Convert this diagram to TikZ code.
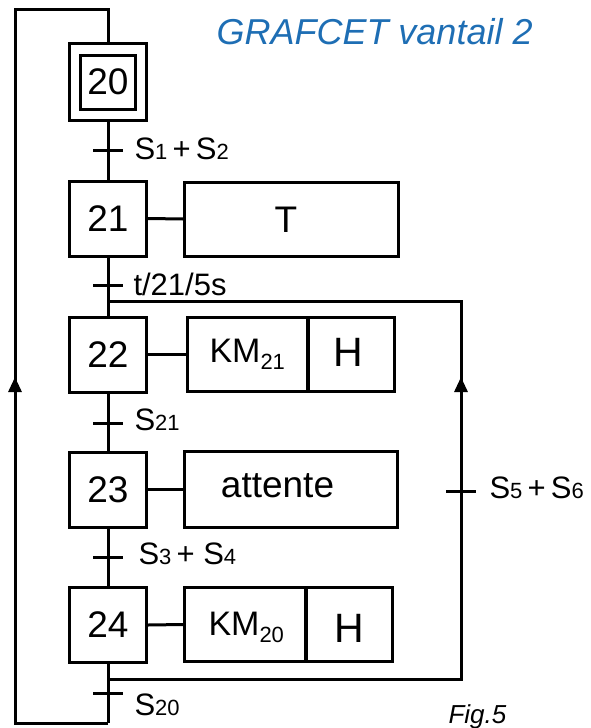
\documentclass[tikz,border=0pt]{standalone}
\usepackage{fontspec}
\setmainfont{Liberation Sans}
\usetikzlibrary{arrows.meta}
\definecolor{titleblue}{RGB}{30,110,180}
\newcommand{\myfs}[1]{\fontsize{#1}{#1}\selectfont}
\newcommand{\smalldig}[1]{{\myfs{22}#1}}
\newcommand{\lowdig}[1]{\raisebox{-7pt}{\myfs{22}#1}}
\begin{document}
\begin{tikzpicture}[x=1pt,y=-1pt,line width=3pt,
  stepbox/.style={draw,line width=3pt,minimum width=77pt,minimum height=75pt,inner sep=0pt,font=\myfs{37}},
  actbox/.style={draw,line width=3pt,inner sep=0pt,minimum height=74pt},
  acttext/.style={inner sep=0pt,anchor=base},
  trlabel/.style={inner sep=0pt,anchor=base west,font=\myfs{31}},
  bar/.style={line width=3pt},
  tip/.style={-{Triangle[length=15pt,width=13pt]}}]
\useasboundingbox (0,0) rectangle (591,728);

% title
\node[inner sep=0pt,anchor=base west,font=\myfs{36}\itshape,text=titleblue] (title) at (215,44) {GRAFCET vantail 2};
\node[inner sep=0pt,anchor=base west,font=\myfs{26}\itshape] (fig) at (447,723) {Fig.5};

% steps
\node[stepbox,minimum width=77pt,minimum height=77pt] (s20o) at (108,82) {};
\node[stepbox,minimum width=55pt,minimum height=54pt] (s20) at (108,82) {20};
\node[stepbox] (s21) at (108,218.5) {21};
\node[stepbox] (s22) at (108,354.5) {22};
\node[stepbox] (s23) at (108,489.5) {23};
\node[stepbox] (s24) at (108,625) {24};

% actions
\node[actbox,minimum width=214pt] (a21) at (291.5,219) {};
\node[acttext,font=\myfs{37}] (a21t) at (286,232) {T};

\node[actbox,minimum width=120pt] (a22k) at (247.5,354.5) {};
\node[actbox,minimum width=86pt] (a22h) at (351,354.5) {};
\node[inner sep=0pt,anchor=base west,font=\myfs{34}] (a22kt) at (208,362) {KM\lowdig{21}};
\node[acttext,font=\myfs{41}] (a22ht) at (348,366) {H};

\node[actbox,minimum width=213pt,minimum height=76pt] (a23) at (291,489.5) {};
\node[acttext,font=\myfs{37}] (a23t) at (277.5,497) {attente};

\node[actbox,minimum width=121pt] (a24k) at (245,624.5) {};
\node[actbox,minimum width=86pt] (a24h) at (349,624.5) {};
\node[inner sep=0pt,anchor=base west,font=\myfs{34}] (a24kt) at (207,635) {KM\lowdig{20}};
\node[acttext,font=\myfs{41}] (a24ht) at (349,642) {H};

% step-action links
\draw (s21.east) -- (a21.west);
\draw (s22.east) -- (a22k.west);
\draw (s23.east) -- (a23.west);
\draw (s24.east) -- (a24k.west);

% vertical links
\draw (s20o.south) -- (s21.north);
\draw (s21.south) -- (s22.north);
\draw (s22.south) -- (s23.north);
\draw (s23.south) -- (s24.north);

% transitions
\coordinate (t1) at (108,150);
\coordinate (t2) at (108,285);
\coordinate (t3) at (108,423);
\coordinate (t4) at (108,557);
\coordinate (t5) at (108,693);
\coordinate (t6) at (461,491);
\foreach \t in {t1,t2,t3,t4,t5,t6}
  \draw[bar] ([xshift=-15pt]\t) -- ([xshift=15pt]\t);

\node[trlabel] (l1) at (133,159) {S\smalldig{1}\,+\,S\smalldig{2}};
\node[trlabel] (l2) at (132,295) {t/21/5s};
\node[trlabel] (l3) at (133,430) {S\smalldig{21}};
\node[trlabel] (l4) at (137,564) {S\smalldig{3}\,+ S\smalldig{4}};
\node[trlabel] (l5) at (133,715) {S\smalldig{20}};
\node[trlabel] (l6) at (488,498) {S\smalldig{5}\,+\,S\smalldig{6}};

% return loop to 22
\coordinate (rlb) at (108,679);
\coordinate (rrb) at (461,679);
\coordinate (rarr) at (461,377);
\coordinate (rarb) at (461,385);
\coordinate (rrt) at (461,301);
\coordinate (rlt) at (108,301);
\draw[tip] (rlb) -- (rrb) -- (rarr);
\draw (rarb) -- (rrt) -- (rlt);

% return loop to 20
\coordinate (bb) at (108,723);
\coordinate (bl) at (15,723);
\coordinate (larr) at (15,377);
\coordinate (larb) at (15,385);
\coordinate (tl) at (15,9);
\coordinate (tr) at (108,9);
\draw (s24.south) -- (bb);
\draw[tip] (bb) -- (bl) -- (larr);
\draw (larb) -- (tl) -- (tr) -- (s20o.north);
\end{tikzpicture}
\end{document}
